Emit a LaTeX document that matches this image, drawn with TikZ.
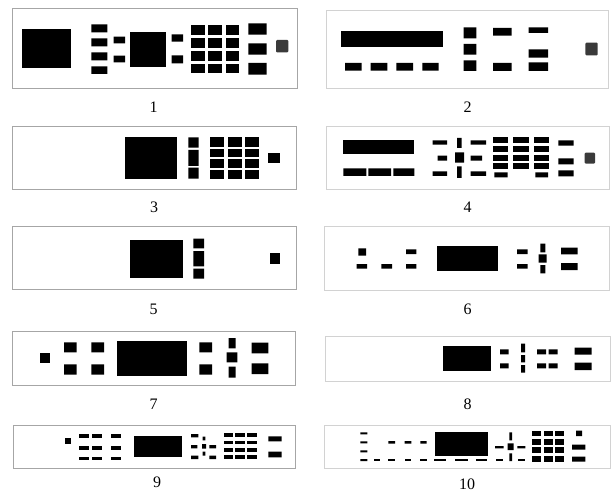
\documentclass[tikz,border=0pt]{standalone}
\usepackage{fontspec}
\setmainfont{Liberation Serif}
\usepackage{tikz}
\definecolor{knobgray}{HTML}{3A3A3A}

\begin{document}
\begin{tikzpicture}[x=1pt,y=-1pt,
  frameL/.style={draw=gray!70,line width=0.8pt},
  frameR/.style={draw=gray!35,line width=0.8pt},
  blk/.style={fill=black},
  knob/.style={fill=knobgray,rounded corners=1pt},
  lbl/.style={font=\fontsize{16}{18}\selectfont,inner sep=0pt}]
  \useasboundingbox (0,0) rectangle (612,494);
  % panel 1
  \draw[frameL] (12.7,8.3) rectangle (297,88);
  \fill[blk] (21.7,29.3) rectangle (71,68.3);
  \fill[blk] (91.3,24.3) rectangle (107.3,32.3) (91.3,38.3) rectangle (107.3,46.3)
             (91.3,52.3) rectangle (107.3,60.3) (91.3,66.3) rectangle (107.3,74);
  \fill[blk] (113.7,36.7) rectangle (125,43.3) (113.7,55.7) rectangle (125,62.3);
  \fill[blk] (130,31.7) rectangle (165.7,66.7);
  \fill[blk] (171.7,34.3) rectangle (183,41.7) (171.7,55.3) rectangle (183,63.3);
  \foreach \xa/\xb in {191/205,208.3/222.3,225.7/239}
    \foreach \ya/\yb in {25/34.7,38/47.7,51/60.7,63.7/73.3}
      \fill[blk] (\xa,\ya) rectangle (\xb,\yb);
  \fill[blk] (248.3,23.3) rectangle (266.7,34.7) (248.3,43.3) rectangle (266.7,54.7)
             (248.3,63) rectangle (266.7,74.7);
  \fill[knob] (276,40) rectangle (288.3,52.3);
  \node[lbl] (lab1) at (153.5,107) {1};
  % panel 2
  \draw[frameR] (326.7,10) rectangle (608.7,88.3);
  \fill[blk] (341,31) rectangle (443,47);
  \fill[blk] (345,63) rectangle (361.7,70.7) (370.7,63) rectangle (387.3,70.7)
             (396.3,63) rectangle (413,70.7) (422.3,63) rectangle (438.7,70.7);
  \fill[blk] (463.7,27.3) rectangle (476.3,38.3) (463.7,44) rectangle (476.3,54.7)
             (463.7,60.3) rectangle (476.3,71);
  \fill[blk] (493,28) rectangle (511.7,35.7) (493,63) rectangle (511.7,71);
  \fill[blk] (528.7,27.3) rectangle (548,33) (528.7,49.3) rectangle (548,57.7)
             (528.7,62.3) rectangle (548,71);
  \fill[knob] (585.3,42.7) rectangle (597.7,55.3);
  \node[lbl] (lab2) at (467.5,107) {2};
  % panel 3
  \draw[frameL] (12.7,126) rectangle (296.7,189.3);
  \fill[blk] (124.7,137.3) rectangle (177,178.7);
  \fill[blk] (188.3,137.3) rectangle (198.7,147.7) (188.3,150) rectangle (198.7,166)
             (188.3,167.7) rectangle (198.7,178.7);
  \foreach \xa/\xb in {210/224.3,227.7/242,245/259.3}
    \foreach \ya/\yb in {137.3/146.7,149/157,159.3/167.7,170/178.7}
      \fill[blk] (\xa,\ya) rectangle (\xb,\yb);
  \fill[blk] (267.7,152.7) rectangle (279.7,163);
  \node[lbl] (lab3) at (154,207) {3};
  % panel 4
  \draw[frameR] (326.7,126) rectangle (609.3,189.3);
  \fill[blk] (343.3,140.3) rectangle (414,154.3);
  \fill[blk] (343.3,168.3) rectangle (366.3,176) (368.3,168.3) rectangle (391,176)
             (393.3,168.3) rectangle (414.3,176);
  \fill[blk] (432.7,140.3) rectangle (447,144.7) (432.7,171.3) rectangle (447,176)
             (437.7,155.7) rectangle (447,160.7);
  \fill[blk] (457,138) rectangle (461.7,148) (457,166.3) rectangle (461.7,178)
             (455,152.3) rectangle (464,162.7);
  \fill[blk] (470.7,140.3) rectangle (486,144.7) (470.7,171.3) rectangle (486,176)
             (470.7,155.7) rectangle (482,160.7);
  \foreach \xa/\xb in {492.7/508.3,513.3/528.7,534/549.3}
    \foreach \ya/\yb in {137.3/142.7,146.3/152,154.7/160.7,163.3/169.3}
      \fill[blk] (\xa,\ya) rectangle (\xb,\yb);
  \fill[blk] (494.3,172.3) rectangle (507.7,177.3) (535.3,172.3) rectangle (548,177.3);
  \fill[blk] (558.3,140.3) rectangle (573.7,145.7) (558.3,158.3) rectangle (573.7,164.3)
             (558.3,170.3) rectangle (573.7,176.3);
  \fill[knob] (584.7,152.7) rectangle (595,163.7);
  \node[lbl] (lab4) at (467.5,207) {4};
  % panel 5
  \draw[frameL] (12.7,226.7) rectangle (296.7,289.3);
  \fill[blk] (130.3,240) rectangle (183,277.7);
  \fill[blk] (193.3,238.7) rectangle (204,248.3) (193.3,251) rectangle (204,266.3)
             (193.3,268.7) rectangle (204,278.7);
  \fill[blk] (270,253.3) rectangle (280.3,264);
  \node[lbl] (lab5) at (153.5,309) {5};
  % panel 6
  \draw[frameR] (324.3,226.7) rectangle (609.3,290);
  \fill[blk] (358.3,248.3) rectangle (366,255.7) (356.7,264) rectangle (367,268.7)
             (381.3,264) rectangle (392,268.7)
             (406,249.3) rectangle (416.3,254) (406,264) rectangle (416.3,268.7);
  \fill[blk] (437.3,245.7) rectangle (498.3,271.3);
  \fill[blk] (517,249.3) rectangle (527.7,254) (517,264) rectangle (527.7,268.7);
  \fill[blk] (540.3,243.7) rectangle (545.3,252.3) (538.7,254.3) rectangle (546.7,262.7)
             (540.3,265) rectangle (545.3,273.3);
  \fill[blk] (561,247.7) rectangle (577.7,254.3) (561,263) rectangle (577.7,270);
  \node[lbl] (lab6) at (467.5,309) {6};
  % panel 7
  \draw[frameL] (12.7,331.7) rectangle (295.3,385.7);
  \fill[blk] (40,353.3) rectangle (50,363);
  \fill[blk] (64,342.3) rectangle (76.7,352.3) (64,364.3) rectangle (76.7,374.7)
             (91.3,342.3) rectangle (104,352.3) (91.3,364.3) rectangle (104,374.7);
  \fill[blk] (117.3,341) rectangle (186.7,376);
  \fill[blk] (199.3,342.3) rectangle (212,352.3) (199.3,364.3) rectangle (212,374.7);
  \fill[blk] (228.7,338) rectangle (235.7,348.3) (226.7,352.3) rectangle (237.3,362.3)
             (228.7,366.7) rectangle (235.7,377.7);
  \fill[blk] (251.7,342.7) rectangle (268.3,353.3) (251.7,363.3) rectangle (268.3,374);
  \node[lbl] (lab7) at (153.5,404) {7};
  % panel 8
  \draw[frameR] (325.3,336) rectangle (610,381.7);
  \fill[blk] (442.7,346.3) rectangle (491.3,371.3);
  \fill[blk] (500,349.3) rectangle (508.7,354.3) (500,363.3) rectangle (508.7,368.3);
  \fill[blk] (521,343.7) rectangle (525,352.3) (521,355) rectangle (525,362.3)
             (521,365) rectangle (525,372.7);
  \fill[blk] (537,349.3) rectangle (546,354.3) (537,363.3) rectangle (546,368.3)
             (548.7,349.3) rectangle (557.7,354.3) (548.7,363.3) rectangle (557.7,368.3);
  \fill[blk] (574.7,347.7) rectangle (591.7,354.7) (574.7,362.7) rectangle (591.7,370);
  \node[lbl] (lab8) at (467.5,404) {8};
  % panel 9
  \draw[frameL] (13.3,425) rectangle (295,468.3);
  \fill[blk] (65,438) rectangle (71,444);
  \foreach \xa/\xb in {79.3/89.3,92.3/101.7,111/120.7}
    \foreach \ya/\yb in {434.3/438,446/450,456.7/460.3}
      \fill[blk] (\xa,\ya) rectangle (\xb,\yb);
  \fill[blk] (134.3,436) rectangle (182,457);
  \fill[blk] (191,434) rectangle (198.3,437.3) (202.7,436.7) rectangle (205.3,440.3)
             (191,445) rectangle (197.3,448.3) (202,444) rectangle (206,448.7)
             (209.3,445) rectangle (216,448.3) (202.7,451.7) rectangle (205.3,455.7)
             (191,455.7) rectangle (198.3,459) (209.3,455.7) rectangle (216,459);
  \foreach \xa/\xb in {223.7/233.3,235.3/245,247/256.7}
    \foreach \ya/\yb in {433.3/437.3,440.7/444.3,447.7/451.7,455/459.3}
      \fill[blk] (\xa,\ya) rectangle (\xb,\yb);
  \fill[blk] (268.3,436.3) rectangle (281.7,441.3) (268.3,451.7) rectangle (281.7,457.3);
  \node[lbl] (lab9) at (157,482) {9};
  % panel 10
  \draw[frameR] (324.3,425) rectangle (610,468.3);
  \fill[blk] (360.3,432.3) rectangle (367.3,434.3) (360.3,441.3) rectangle (367.3,443.3)
             (360.3,450.3) rectangle (367.3,452.3) (360.3,459) rectangle (367.3,461);
  \foreach \xa/\xb in {374.3/379.7,388.3/395,404.7/411.3,420.3/426.7,434.3/446,455/467.7,475.7/487.3,496/502.7,517.7/525}
    \fill[blk] (\xa,458.5) rectangle (\xb,461.3);
  \fill[blk] (388.3,441) rectangle (395,443.7) (404.7,441) rectangle (411.3,443.7)
             (420.3,441) rectangle (426.7,443.7);
  \fill[blk] (435,432.3) rectangle (487.7,456);
  \fill[blk] (495,446) rectangle (503.7,448.3) (509.3,432.3) rectangle (512,440.3)
             (507.7,443.3) rectangle (513.7,450) (517.3,446) rectangle (525.3,448.3)
             (509.3,453.3) rectangle (512,461);
  \foreach \xa/\xb in {532/541,543.5/552.5,555/564}
    \foreach \ya/\yb in {430.5/436,439/444.5,447/452.5,456/461.5}
      \fill[blk] (\xa,\ya) rectangle (\xb,\yb);
  \fill[blk] (576,430.5) rectangle (582,436) (572,444.5) rectangle (585.3,449.5)
             (572,456.5) rectangle (585.3,461.5);
  \node[lbl] (lab10) at (467,484) {10};
\end{tikzpicture}
\end{document}
